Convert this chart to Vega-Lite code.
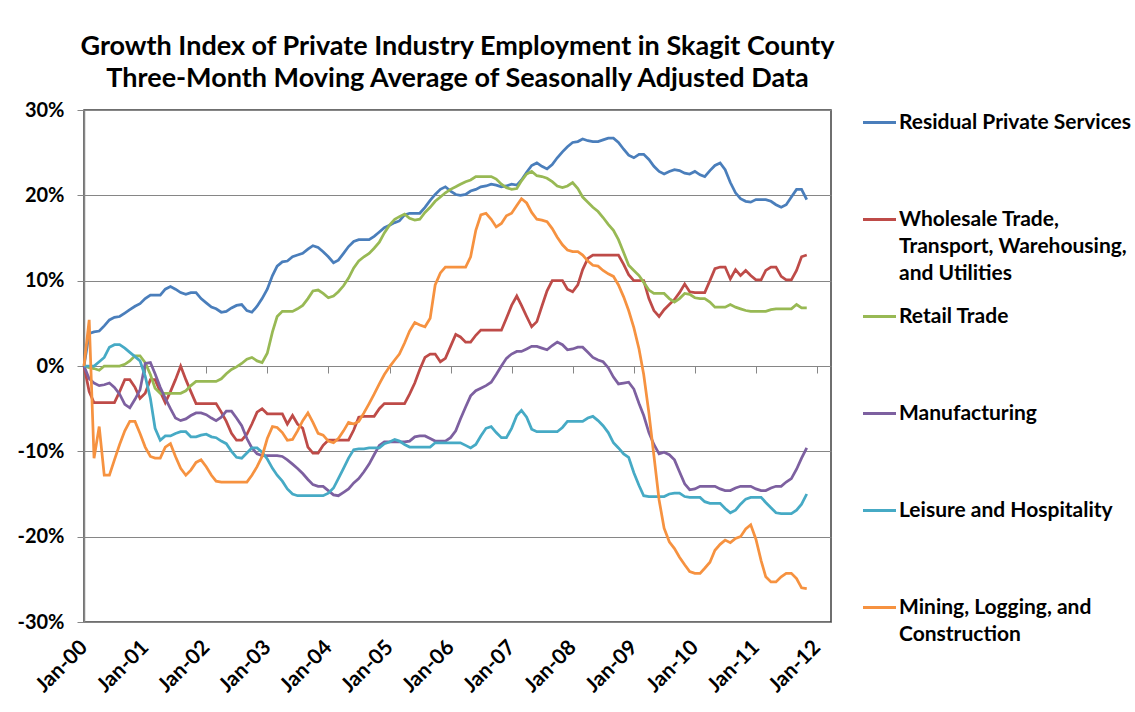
{
"$schema": "https://vega.github.io/schema/vega-lite/v6.json",
"width": 747, "height": 512,
"autosize": {"type": "none"},
"padding": {"left": 84, "top": 110, "right": 304, "bottom": 90},
"background": "white",
"title": {"text": ["Growth Index of Private Industry Employment in Skagit County", "Three-Month Moving Average of Seasonally Adjusted Data"], "font": "Lato", "fontSize": 27, "fontWeight": "bold", "color": "black", "lineHeight": 32, "anchor": "middle", "frame": "group", "offset": 7},
"data": {"format": {"parse": {"d": "date:'%Y-%m'"}}, "values": [
{"d":"2000-01","rps":0,"wt":0,"rt":0,"mf":0,"lh":0,"mlc":0},
{"d":"2000-02","rps":3.8,"wt":-3.0,"rt":-0.2,"mf":-1.5,"lh":0,"mlc":5.4},
{"d":"2000-03","rps":4.0,"wt":-4.3,"rt":-0.3,"mf":-2.0,"lh":0,"mlc":-10.8},
{"d":"2000-04","rps":4.1,"wt":-4.3,"rt":-0.5,"mf":-2.3,"lh":0.5,"mlc":-7.1},
{"d":"2000-05","rps":4.7,"wt":-4.3,"rt":0,"mf":-2.2,"lh":1.0,"mlc":-12.8},
{"d":"2000-06","rps":5.4,"wt":-4.3,"rt":0,"mf":-2.0,"lh":2.2,"mlc":-12.8},
{"d":"2000-07","rps":5.7,"wt":-4.3,"rt":0,"mf":-2.5,"lh":2.5,"mlc":-11.0},
{"d":"2000-08","rps":5.8,"wt":-3.0,"rt":0,"mf":-3.3,"lh":2.5,"mlc":-9.2},
{"d":"2000-09","rps":6.2,"wt":-1.6,"rt":0.2,"mf":-4.5,"lh":2.1,"mlc":-7.6},
{"d":"2000-10","rps":6.6,"wt":-1.6,"rt":0.6,"mf":-4.9,"lh":1.6,"mlc":-6.5},
{"d":"2000-11","rps":7.0,"wt":-2.5,"rt":1.2,"mf":-3.9,"lh":1.1,"mlc":-6.5},
{"d":"2000-12","rps":7.3,"wt":-3.8,"rt":1.2,"mf":-2.8,"lh":0.6,"mlc":-7.9},
{"d":"2001-01","rps":7.9,"wt":-3.2,"rt":0.4,"mf":0.3,"lh":-1.2,"mlc":-9.5},
{"d":"2001-02","rps":8.3,"wt":-1.6,"rt":-1.0,"mf":0.4,"lh":-3.8,"mlc":-10.6},
{"d":"2001-03","rps":8.3,"wt":-1.6,"rt":-2.6,"mf":-0.9,"lh":-7.3,"mlc":-10.8},
{"d":"2001-04","rps":8.3,"wt":-3.0,"rt":-3.2,"mf":-2.5,"lh":-8.7,"mlc":-10.8},
{"d":"2001-05","rps":9.0,"wt":-4.3,"rt":-3.2,"mf":-3.8,"lh":-8.2,"mlc":-9.5},
{"d":"2001-06","rps":9.3,"wt":-3.0,"rt":-3.2,"mf":-5.0,"lh":-8.2,"mlc":-9.1},
{"d":"2001-07","rps":9.0,"wt":-1.6,"rt":-3.2,"mf":-6.1,"lh":-7.9,"mlc":-10.6},
{"d":"2001-08","rps":8.6,"wt":0,"rt":-3.2,"mf":-6.4,"lh":-7.7,"mlc":-12.0},
{"d":"2001-09","rps":8.4,"wt":-1.6,"rt":-2.9,"mf":-6.2,"lh":-7.7,"mlc":-12.8},
{"d":"2001-10","rps":8.6,"wt":-3.0,"rt":-2.3,"mf":-5.8,"lh":-8.3,"mlc":-12.2},
{"d":"2001-11","rps":8.6,"wt":-4.4,"rt":-1.8,"mf":-5.5,"lh":-8.3,"mlc":-11.3},
{"d":"2001-12","rps":7.9,"wt":-4.4,"rt":-1.8,"mf":-5.5,"lh":-8.1,"mlc":-11.0},
{"d":"2002-01","rps":7.4,"wt":-4.4,"rt":-1.8,"mf":-5.7,"lh":-8.0,"mlc":-11.8},
{"d":"2002-02","rps":6.9,"wt":-4.4,"rt":-1.8,"mf":-6.1,"lh":-8.3,"mlc":-12.8},
{"d":"2002-03","rps":6.7,"wt":-4.4,"rt":-1.8,"mf":-6.4,"lh":-8.4,"mlc":-13.5},
{"d":"2002-04","rps":6.3,"wt":-5.4,"rt":-1.5,"mf":-6.0,"lh":-8.8,"mlc":-13.6},
{"d":"2002-05","rps":6.4,"wt":-6.5,"rt":-0.9,"mf":-5.3,"lh":-9.1,"mlc":-13.6},
{"d":"2002-06","rps":6.8,"wt":-7.9,"rt":-0.4,"mf":-5.3,"lh":-10.0,"mlc":-13.6},
{"d":"2002-07","rps":7.1,"wt":-8.7,"rt":-0.1,"mf":-6.1,"lh":-10.7,"mlc":-13.6},
{"d":"2002-08","rps":7.2,"wt":-8.7,"rt":0.3,"mf":-7.0,"lh":-10.8,"mlc":-13.6},
{"d":"2002-09","rps":6.5,"wt":-8.0,"rt":0.8,"mf":-8.5,"lh":-10.2,"mlc":-13.6},
{"d":"2002-10","rps":6.3,"wt":-6.8,"rt":1.0,"mf":-9.6,"lh":-9.6,"mlc":-12.8},
{"d":"2002-11","rps":7.0,"wt":-5.4,"rt":0.6,"mf":-10.3,"lh":-9.6,"mlc":-11.8},
{"d":"2002-12","rps":7.9,"wt":-5.0,"rt":0.4,"mf":-10.5,"lh":-10.1,"mlc":-10.6},
{"d":"2003-01","rps":9.0,"wt":-5.6,"rt":1.5,"mf":-10.5,"lh":-10.9,"mlc":-8.5},
{"d":"2003-02","rps":10.6,"wt":-5.6,"rt":4.0,"mf":-10.5,"lh":-12.0,"mlc":-7.1},
{"d":"2003-03","rps":11.7,"wt":-5.6,"rt":5.8,"mf":-10.5,"lh":-12.8,"mlc":-7.2},
{"d":"2003-04","rps":12.2,"wt":-5.6,"rt":6.4,"mf":-10.6,"lh":-13.5,"mlc":-7.8},
{"d":"2003-05","rps":12.3,"wt":-6.8,"rt":6.4,"mf":-11.0,"lh":-14.4,"mlc":-8.7},
{"d":"2003-06","rps":12.8,"wt":-5.8,"rt":6.4,"mf":-11.5,"lh":-15.0,"mlc":-8.6},
{"d":"2003-07","rps":13.0,"wt":-6.8,"rt":6.7,"mf":-12.0,"lh":-15.2,"mlc":-7.6},
{"d":"2003-08","rps":13.2,"wt":-7.3,"rt":7.1,"mf":-12.6,"lh":-15.2,"mlc":-6.4},
{"d":"2003-09","rps":13.7,"wt":-9.5,"rt":7.9,"mf":-13.3,"lh":-15.2,"mlc":-5.5},
{"d":"2003-10","rps":14.1,"wt":-10.2,"rt":8.8,"mf":-13.9,"lh":-15.2,"mlc":-6.6},
{"d":"2003-11","rps":13.9,"wt":-10.2,"rt":8.9,"mf":-14.1,"lh":-15.2,"mlc":-7.9},
{"d":"2003-12","rps":13.4,"wt":-9.3,"rt":8.5,"mf":-14.1,"lh":-15.2,"mlc":-8.1},
{"d":"2004-01","rps":12.8,"wt":-8.7,"rt":8.0,"mf":-14.6,"lh":-14.9,"mlc":-8.8},
{"d":"2004-02","rps":12.1,"wt":-8.7,"rt":8.2,"mf":-15.1,"lh":-14.3,"mlc":-9.0},
{"d":"2004-03","rps":12.4,"wt":-8.7,"rt":8.7,"mf":-15.2,"lh":-13.2,"mlc":-8.5},
{"d":"2004-04","rps":13.2,"wt":-8.7,"rt":9.4,"mf":-14.8,"lh":-12.0,"mlc":-7.6},
{"d":"2004-05","rps":14.0,"wt":-8.7,"rt":10.3,"mf":-14.4,"lh":-10.8,"mlc":-6.6},
{"d":"2004-06","rps":14.6,"wt":-7.5,"rt":11.5,"mf":-13.7,"lh":-9.8,"mlc":-6.8},
{"d":"2004-07","rps":14.8,"wt":-6.0,"rt":12.3,"mf":-13.2,"lh":-9.7,"mlc":-6.5},
{"d":"2004-08","rps":14.8,"wt":-5.9,"rt":12.8,"mf":-12.4,"lh":-9.7,"mlc":-5.5},
{"d":"2004-09","rps":14.8,"wt":-5.9,"rt":13.2,"mf":-11.5,"lh":-9.6,"mlc":-4.4},
{"d":"2004-10","rps":15.2,"wt":-5.9,"rt":13.8,"mf":-10.4,"lh":-9.6,"mlc":-3.3},
{"d":"2004-11","rps":15.7,"wt":-5.0,"rt":14.5,"mf":-9.3,"lh":-9.6,"mlc":-2.1},
{"d":"2004-12","rps":16.2,"wt":-4.4,"rt":15.6,"mf":-8.9,"lh":-9.1,"mlc":-1.0},
{"d":"2005-01","rps":16.5,"wt":-4.4,"rt":16.5,"mf":-8.9,"lh":-8.9,"mlc":-0.1},
{"d":"2005-02","rps":16.8,"wt":-4.4,"rt":17.2,"mf":-8.9,"lh":-8.6,"mlc":0.7},
{"d":"2005-03","rps":17.0,"wt":-4.4,"rt":17.5,"mf":-8.9,"lh":-8.8,"mlc":1.4},
{"d":"2005-04","rps":17.7,"wt":-4.4,"rt":17.8,"mf":-8.9,"lh":-9.2,"mlc":2.7},
{"d":"2005-05","rps":17.9,"wt":-3.3,"rt":17.3,"mf":-8.8,"lh":-9.5,"mlc":4.1},
{"d":"2005-06","rps":17.9,"wt":-2.0,"rt":17.1,"mf":-8.3,"lh":-9.5,"mlc":5.1},
{"d":"2005-07","rps":17.9,"wt":-0.4,"rt":17.2,"mf":-8.2,"lh":-9.5,"mlc":4.8},
{"d":"2005-08","rps":18.6,"wt":1.0,"rt":18.0,"mf":-8.2,"lh":-9.5,"mlc":4.6},
{"d":"2005-09","rps":19.4,"wt":1.4,"rt":18.6,"mf":-8.5,"lh":-9.5,"mlc":5.6},
{"d":"2005-10","rps":20.1,"wt":1.4,"rt":19.3,"mf":-8.8,"lh":-9.0,"mlc":9.5},
{"d":"2005-11","rps":20.7,"wt":0.5,"rt":19.8,"mf":-8.8,"lh":-9.0,"mlc":10.9},
{"d":"2005-12","rps":21.0,"wt":0.9,"rt":20.3,"mf":-8.8,"lh":-9.0,"mlc":11.6},
{"d":"2006-01","rps":20.5,"wt":2.3,"rt":20.7,"mf":-8.4,"lh":-9.0,"mlc":11.6},
{"d":"2006-02","rps":20.1,"wt":3.7,"rt":21.0,"mf":-7.6,"lh":-9.0,"mlc":11.6},
{"d":"2006-03","rps":20.0,"wt":3.4,"rt":21.3,"mf":-6.2,"lh":-9.0,"mlc":11.6},
{"d":"2006-04","rps":20.1,"wt":2.8,"rt":21.6,"mf":-4.8,"lh":-9.3,"mlc":11.6},
{"d":"2006-05","rps":20.5,"wt":2.8,"rt":21.8,"mf":-3.5,"lh":-9.6,"mlc":12.8},
{"d":"2006-06","rps":20.7,"wt":3.6,"rt":22.2,"mf":-2.9,"lh":-9.2,"mlc":15.9},
{"d":"2006-07","rps":21.0,"wt":4.2,"rt":22.2,"mf":-2.6,"lh":-8.2,"mlc":17.7},
{"d":"2006-08","rps":21.1,"wt":4.2,"rt":22.2,"mf":-2.3,"lh":-7.3,"mlc":17.9},
{"d":"2006-09","rps":21.3,"wt":4.2,"rt":22.2,"mf":-1.9,"lh":-7.1,"mlc":17.2},
{"d":"2006-10","rps":21.2,"wt":4.2,"rt":21.9,"mf":-1.0,"lh":-7.8,"mlc":16.3},
{"d":"2006-11","rps":21.0,"wt":4.2,"rt":21.3,"mf":0.0,"lh":-8.4,"mlc":16.7},
{"d":"2006-12","rps":21.1,"wt":5.6,"rt":20.9,"mf":0.9,"lh":-8.4,"mlc":17.6},
{"d":"2007-01","rps":21.3,"wt":7.1,"rt":20.7,"mf":1.4,"lh":-7.3,"mlc":17.9},
{"d":"2007-02","rps":21.2,"wt":8.2,"rt":20.8,"mf":1.7,"lh":-5.8,"mlc":18.8},
{"d":"2007-03","rps":21.8,"wt":7.1,"rt":21.7,"mf":1.7,"lh":-5.2,"mlc":19.6},
{"d":"2007-04","rps":22.7,"wt":5.8,"rt":22.5,"mf":2.0,"lh":-6.0,"mlc":19.1},
{"d":"2007-05","rps":23.5,"wt":4.6,"rt":22.8,"mf":2.3,"lh":-7.4,"mlc":18.0},
{"d":"2007-06","rps":23.8,"wt":5.2,"rt":22.3,"mf":2.3,"lh":-7.7,"mlc":17.2},
{"d":"2007-07","rps":23.4,"wt":7.0,"rt":22.2,"mf":2.1,"lh":-7.7,"mlc":17.1},
{"d":"2007-08","rps":23.1,"wt":8.8,"rt":22.0,"mf":1.9,"lh":-7.7,"mlc":16.9},
{"d":"2007-09","rps":23.6,"wt":10.0,"rt":21.6,"mf":2.4,"lh":-7.7,"mlc":16.1},
{"d":"2007-10","rps":24.4,"wt":10.0,"rt":21.1,"mf":2.8,"lh":-7.7,"mlc":15.1},
{"d":"2007-11","rps":25.1,"wt":10.0,"rt":20.9,"mf":2.5,"lh":-7.2,"mlc":14.2},
{"d":"2007-12","rps":25.7,"wt":9.0,"rt":21.1,"mf":1.9,"lh":-6.5,"mlc":13.6},
{"d":"2008-01","rps":26.2,"wt":8.7,"rt":21.5,"mf":2.0,"lh":-6.5,"mlc":13.4},
{"d":"2008-02","rps":26.3,"wt":9.5,"rt":20.8,"mf":2.2,"lh":-6.5,"mlc":13.4},
{"d":"2008-03","rps":26.6,"wt":11.3,"rt":19.8,"mf":2.2,"lh":-6.5,"mlc":13.0},
{"d":"2008-04","rps":26.4,"wt":12.6,"rt":19.2,"mf":1.6,"lh":-6.1,"mlc":12.3},
{"d":"2008-05","rps":26.3,"wt":13.0,"rt":18.6,"mf":1.0,"lh":-5.9,"mlc":11.8},
{"d":"2008-06","rps":26.3,"wt":13.0,"rt":18.1,"mf":0.7,"lh":-6.4,"mlc":11.7},
{"d":"2008-07","rps":26.5,"wt":13.0,"rt":17.4,"mf":0.5,"lh":-7.0,"mlc":11.2},
{"d":"2008-08","rps":26.7,"wt":13.0,"rt":16.6,"mf":-0.2,"lh":-7.8,"mlc":10.8},
{"d":"2008-09","rps":26.7,"wt":13.0,"rt":15.9,"mf":-1.3,"lh":-9.0,"mlc":10.5},
{"d":"2008-10","rps":26.2,"wt":13.0,"rt":14.8,"mf":-2.1,"lh":-9.6,"mlc":9.5},
{"d":"2008-11","rps":25.4,"wt":11.9,"rt":13.3,"mf":-2.0,"lh":-10.3,"mlc":8.1},
{"d":"2008-12","rps":24.7,"wt":10.7,"rt":11.8,"mf":-1.9,"lh":-10.7,"mlc":6.5},
{"d":"2009-01","rps":24.4,"wt":10.0,"rt":11.2,"mf":-2.7,"lh":-12.5,"mlc":4.5},
{"d":"2009-02","rps":24.8,"wt":10.0,"rt":10.6,"mf":-4.4,"lh":-14.0,"mlc":2.0},
{"d":"2009-03","rps":24.8,"wt":10.0,"rt":9.8,"mf":-5.8,"lh":-15.2,"mlc":-1.0},
{"d":"2009-04","rps":24.2,"wt":7.9,"rt":8.9,"mf":-7.8,"lh":-15.3,"mlc":-5.5},
{"d":"2009-05","rps":23.4,"wt":6.5,"rt":8.5,"mf":-9.2,"lh":-15.3,"mlc":-10.5},
{"d":"2009-06","rps":22.8,"wt":5.8,"rt":8.5,"mf":-10.3,"lh":-15.3,"mlc":-15.7},
{"d":"2009-07","rps":22.5,"wt":6.6,"rt":8.5,"mf":-10.1,"lh":-15.3,"mlc":-19.0},
{"d":"2009-08","rps":22.8,"wt":7.2,"rt":7.9,"mf":-10.4,"lh":-15.0,"mlc":-20.6},
{"d":"2009-09","rps":23.0,"wt":7.8,"rt":7.5,"mf":-11.0,"lh":-14.9,"mlc":-21.4},
{"d":"2009-10","rps":22.9,"wt":8.6,"rt":7.9,"mf":-12.4,"lh":-14.9,"mlc":-22.4},
{"d":"2009-11","rps":22.6,"wt":9.6,"rt":8.5,"mf":-13.8,"lh":-15.3,"mlc":-23.3},
{"d":"2009-12","rps":22.5,"wt":8.7,"rt":8.4,"mf":-14.5,"lh":-15.4,"mlc":-24.1},
{"d":"2010-01","rps":22.8,"wt":8.6,"rt":8.0,"mf":-14.4,"lh":-15.4,"mlc":-24.3},
{"d":"2010-02","rps":22.4,"wt":8.6,"rt":7.9,"mf":-14.1,"lh":-15.4,"mlc":-24.3},
{"d":"2010-03","rps":22.2,"wt":8.6,"rt":7.9,"mf":-14.1,"lh":-15.9,"mlc":-23.7},
{"d":"2010-04","rps":22.9,"wt":10.0,"rt":7.5,"mf":-14.1,"lh":-16.1,"mlc":-23.0},
{"d":"2010-05","rps":23.5,"wt":11.4,"rt":6.9,"mf":-14.1,"lh":-16.1,"mlc":-21.6},
{"d":"2010-06","rps":23.8,"wt":11.6,"rt":6.9,"mf":-14.4,"lh":-16.1,"mlc":-20.9},
{"d":"2010-07","rps":23.0,"wt":11.6,"rt":6.9,"mf":-14.6,"lh":-16.7,"mlc":-20.4},
{"d":"2010-08","rps":21.5,"wt":10.2,"rt":7.2,"mf":-14.6,"lh":-17.2,"mlc":-20.7},
{"d":"2010-09","rps":20.3,"wt":11.3,"rt":6.9,"mf":-14.3,"lh":-16.9,"mlc":-20.2},
{"d":"2010-10","rps":19.6,"wt":10.6,"rt":6.7,"mf":-14.1,"lh":-16.2,"mlc":-20.0},
{"d":"2010-11","rps":19.3,"wt":11.2,"rt":6.5,"mf":-14.1,"lh":-15.6,"mlc":-19.1},
{"d":"2010-12","rps":19.2,"wt":10.6,"rt":6.4,"mf":-14.1,"lh":-15.4,"mlc":-18.6},
{"d":"2011-01","rps":19.5,"wt":10.1,"rt":6.4,"mf":-14.4,"lh":-15.4,"mlc":-20.3},
{"d":"2011-02","rps":19.5,"wt":10.1,"rt":6.4,"mf":-14.6,"lh":-15.4,"mlc":-22.8},
{"d":"2011-03","rps":19.5,"wt":11.2,"rt":6.4,"mf":-14.6,"lh":-16.0,"mlc":-24.7},
{"d":"2011-04","rps":19.3,"wt":11.6,"rt":6.6,"mf":-14.3,"lh":-16.6,"mlc":-25.3},
{"d":"2011-05","rps":18.9,"wt":11.6,"rt":6.7,"mf":-14.1,"lh":-17.2,"mlc":-25.3},
{"d":"2011-06","rps":18.6,"wt":10.5,"rt":6.7,"mf":-14.1,"lh":-17.3,"mlc":-24.7},
{"d":"2011-07","rps":18.9,"wt":10.1,"rt":6.7,"mf":-13.6,"lh":-17.3,"mlc":-24.3},
{"d":"2011-08","rps":19.8,"wt":10.1,"rt":6.7,"mf":-13.2,"lh":-17.3,"mlc":-24.3},
{"d":"2011-09","rps":20.7,"wt":11.2,"rt":7.2,"mf":-12.1,"lh":-16.9,"mlc":-24.9},
{"d":"2011-10","rps":20.7,"wt":12.8,"rt":6.8,"mf":-10.8,"lh":-16.2,"mlc":-26.0},
{"d":"2011-11","rps":19.5,"wt":13.0,"rt":6.8,"mf":-9.6,"lh":-15.0,"mlc":-26.1}
]},
"transform": [{"fold": ["rps", "wt", "rt", "mf", "lh", "mlc"], "as": ["s", "v"]}],
"mark": {"type": "line", "strokeWidth": 2.75},
"encoding": {
  "x": {"field": "d", "type": "temporal",
    "scale": {"domain": [{"year": 2000, "month": 1, "date": 1}, {"year": 2012, "month": 3, "date": 25}]},
    "axis": {"title": null, "format": "%b-%y", "tickCount": {"interval": "year", "step": 1}, "offset": -256, "domain": false, "grid": false, "ticks": true, "tickSize": 7, "tickColor": "#868686", "tickWidth": 1, "labelPadding": 271, "labelAngle": -45, "labelAlign": "right", "labelBaseline": "middle", "labelFont": "Lato", "labelFontSize": 21, "labelFontWeight": "bold", "labelColor": "black", "labelOverlap": false, "labelFlush": false}},
  "y": {"field": "v", "type": "quantitative",
    "scale": {"domain": [-30, 30], "nice": false},
    "axis": {"title": null, "values": [-30, -20, -10, 0, 10, 20, 30], "labelExpr": "datum.value + '%'", "grid": true, "gridColor": "#868686", "gridWidth": 1, "domain": true, "domainColor": "#868686", "domainWidth": 1.5, "ticks": true, "tickSize": 7, "tickColor": "#868686", "labelPadding": 13, "labelFont": "Lato", "labelFontSize": 20, "labelFontWeight": "bold", "labelColor": "black"}},
  "color": {"field": "s", "type": "nominal",
    "scale": {"domain": ["rps", "wt", "rt", "mf", "lh", "mlc"], "range": ["#4A7EBB", "#BE4B48", "#98B954", "#7D60A0", "#46AAC5", "#F69240"]},
    "legend": {"title": null, "orient": "right", "offset": 36, "padding": 2, "symbolType": "M-3,0L3,0", "symbolSize": 121, "symbolStrokeWidth": 3, "labelFont": "Lato", "labelFontSize": 21, "labelFontWeight": "bold", "labelColor": "black", "labelOffset": 9, "labelLimit": 400, "rowPadding": 21,
      "labelExpr": "datum.value == 'rps' ? ['Residual Private Services', '', ''] : datum.value == 'wt' ? ['Wholesale Trade,', 'Transport, Warehousing,', 'and Utilities'] : datum.value == 'rt' ? ['Retail Trade', '', ''] : datum.value == 'mf' ? ['Manufacturing', '', ''] : datum.value == 'lh' ? ['Leisure and Hospitality', '', ''] : ['Mining, Logging, and', 'Construction', '']"}}
},
"config": {"view": {"stroke": "#404040", "strokeWidth": 1.5}, "style": {"guide-label": {"lineHeight": 27}}, "font": "Lato"}
}
